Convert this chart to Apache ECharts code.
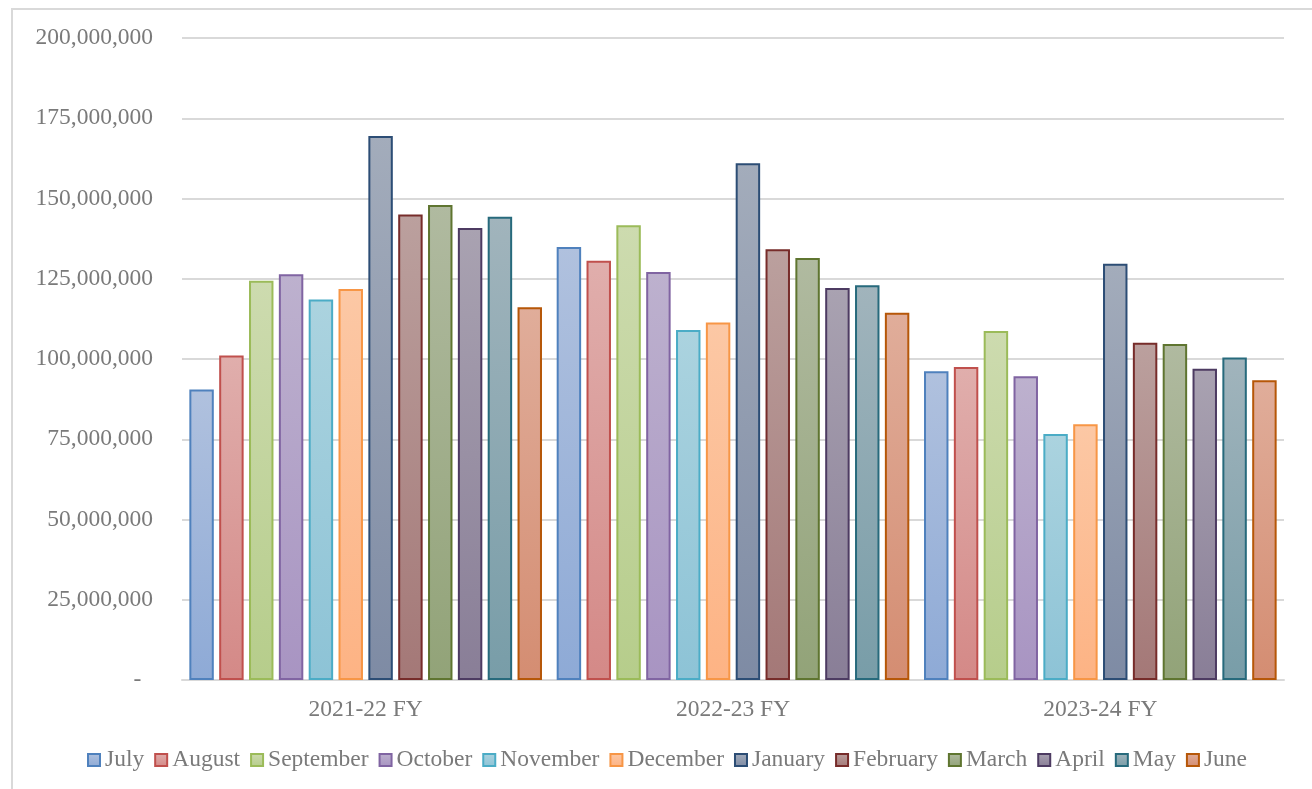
<!DOCTYPE html>
<html>
<head>
<meta charset="utf-8">
<script src="https://cdn.jsdelivr.net/npm/echarts@6/dist/echarts.min.js"></script>
<style>
  html, body { margin: 0; padding: 0; background: #fff; }
  #frame { position: absolute; left: 11px; top: 8px; width: 1301px; height: 781px;
           border-left: 2px solid #d9d9d9; border-top: 2px solid #d9d9d9; box-sizing: border-box; }
  #chart { position: absolute; left: 0; top: 0; width: 1312px; height: 789px; }
</style>
</head>
<body>
<div id="frame"></div>
<div id="chart"></div>
<script>
  // 财年分类
  const years = ['2021-22 FY', '2022-23 FY', '2023-24 FY']
  const months = ['July', 'August', 'September', 'October', 'November', 'December',
                  'January', 'February', 'March', 'April', 'May', 'June']

  // 每个月份在三个财年的数值
  const july      = [90500000, 134900000, 96200000]
  const august    = [101100000, 130600000, 97500000]
  const september = [124400000, 141700000, 108700000]
  const october   = [126400000, 127100000, 94600000]
  const november  = [118500000, 109000000, 76600000]
  const december  = [121800000, 111400000, 79700000]
  const january   = [169500000, 161000000, 129700000]
  const february  = [145000000, 134200000, 105100000]
  const march     = [148000000, 131500000, 104700000]
  const april     = [140800000, 122100000, 97000000]
  const may       = [144300000, 123000000, 100500000]
  const june      = [116100000, 114400000, 93400000]

  const values = [july, august, september, october, november, december,
                  january, february, march, april, may, june]

  // 配色：渐变上色 / 下色 / 边框
  const topColors = ['#b0c1de', '#e0aeac', '#cddbaf', '#bdb1ce', '#abd3df', '#fcc8a5',
                     '#a3acbb', '#bba09e', '#b0baa0', '#a9a2b1', '#a1b4bc', '#e0ad9a']
  const bottomColors = ['#8eaad6', '#d48987', '#b6cd8b', '#a894c2', '#8dc3d6', '#fdb384',
                        '#7e8ba4', '#a47877', '#92a378', '#897e97', '#789da8', '#d48d72']
  const borderColors = ['#4f81bd', '#c0504d', '#9bbb59', '#8064a2', '#4bacc6', '#f79646',
                        '#2c4d75', '#772c2a', '#5f7530', '#4d3b62', '#276a7c', '#b65708']

  const font = '"Liberation Serif", "Times New Roman", serif'
  const textColor = '#7a7a7a'
  const fontSize = 23.5

  const chart = echarts.init(document.getElementById('chart'))

  chart.setOption({
    animation: false,
    textStyle: { fontFamily: font },
    grid: { left: 182, right: 28, top: 38, bottom: 109, containLabel: false },
    legend: {
      bottom: 12,
      left: 82,
      icon: 'rect',
      itemWidth: 12,
      itemHeight: 12,
      itemGap: 10,
      textStyle: { fontFamily: font, fontSize, color: textColor },
      data: months
    },
    xAxis: {
      type: 'category',
      data: years,
      axisLine: { lineStyle: { color: '#d9d9d9', width: 2 } },
      axisTick: { show: false },
      axisLabel: { fontFamily: font, fontSize, color: textColor, margin: 18 }
    },
    yAxis: {
      type: 'value',
      min: 0,
      max: 200000000,
      interval: 25000000,
      axisLine: { show: false },
      axisTick: { show: false },
      splitLine: { lineStyle: { color: '#d9d9d9', width: 2 } },
      axisLabel: {
        fontFamily: font, fontSize, color: textColor, margin: 29,
        formatter: v => v === 0 ? '-  ' : v.toLocaleString('en-US')
      }
    },
    series: months.map((m, i) => ({
      name: m,
      type: 'bar',
      data: values[i],
      barCategoryGap: '4%',
      barGap: '22%',
      itemStyle: {
        color: new echarts.graphic.LinearGradient(0, 0, 0, 1, [
          { offset: 0, color: topColors[i] },
          { offset: 1, color: bottomColors[i] }
        ]),
        borderColor: borderColors[i],
        borderWidth: 2
      }
    }))
  })
</script>
</body>
</html>
